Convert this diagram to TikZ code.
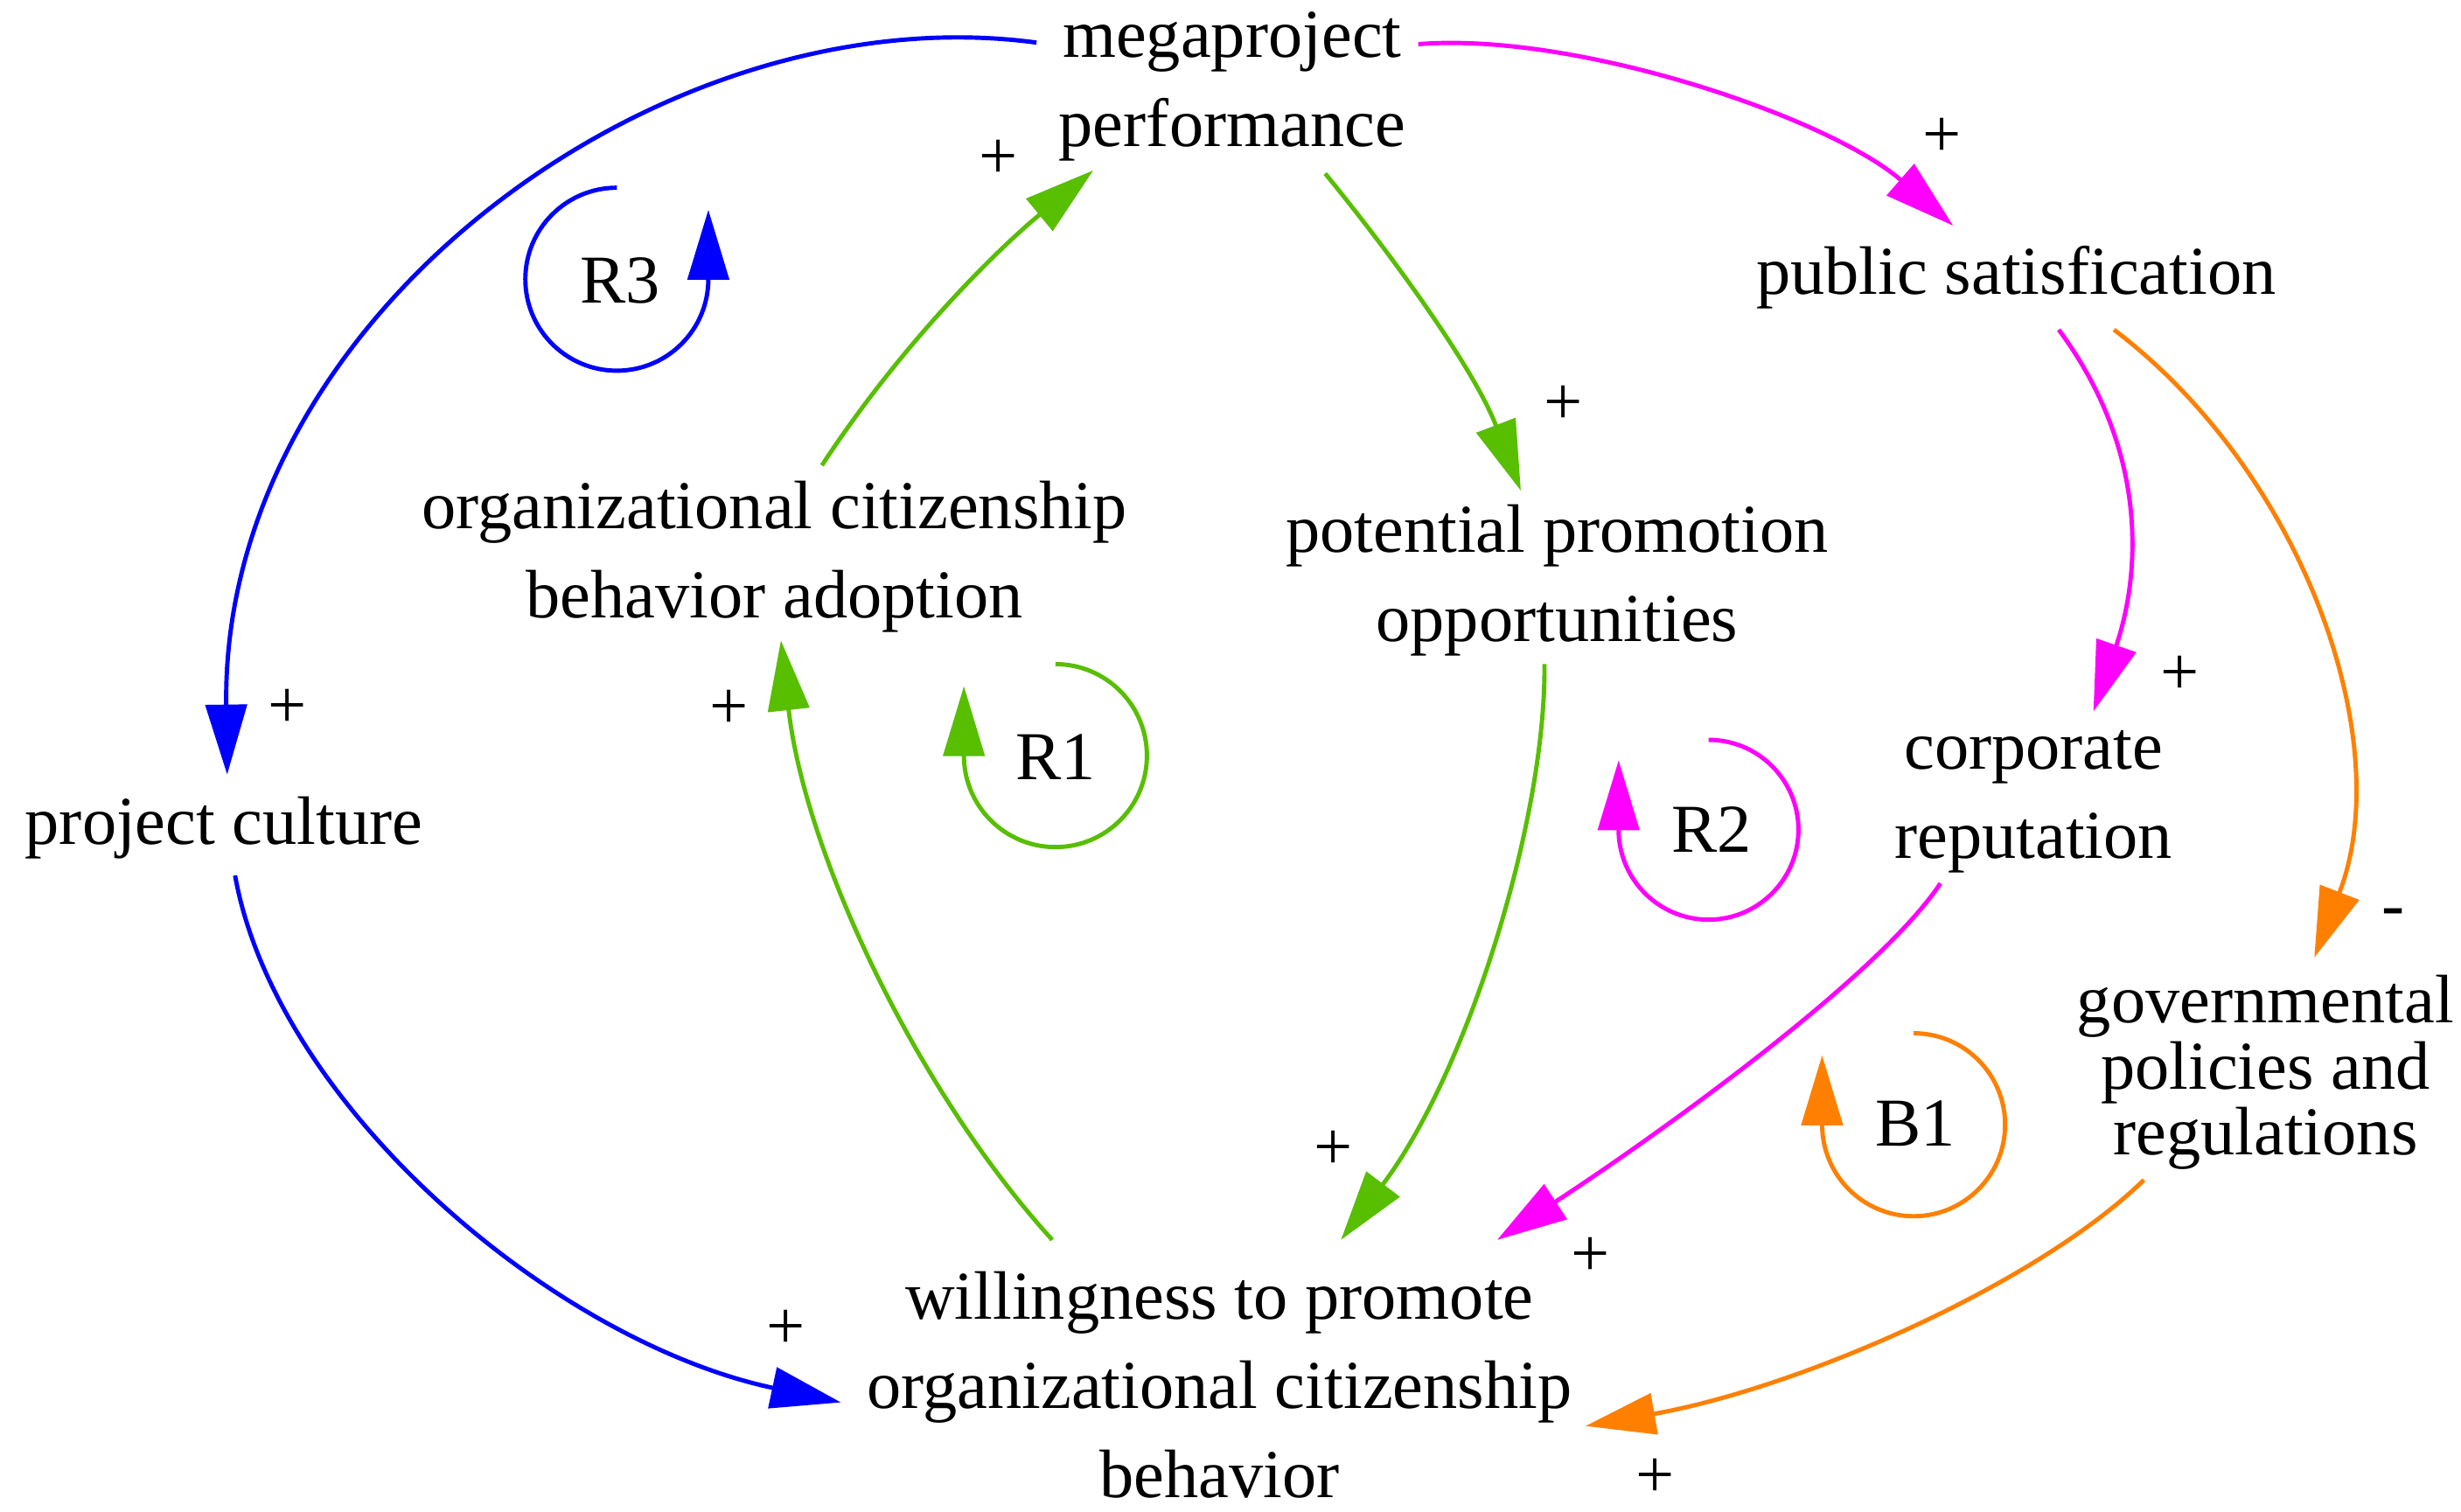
\documentclass[tikz,border=0pt]{standalone}
\usepackage{fontspec}
\setmainfont{Liberation Serif}
\usetikzlibrary{arrows.meta,calc}
\definecolor{cblue}{RGB}{0,0,255}
\definecolor{cgreen}{RGB}{88,190,0}
\definecolor{cmag}{RGB}{255,0,255}
\definecolor{corange}{RGB}{255,128,0}
\begin{document}
\begin{tikzpicture}[x=0.018038cm,y=0.018038cm,
  var/.style={align=center,inner sep=0pt,font=\fontsize{22.3}{29}\selectfont},
  tightvar/.style={align=center,inner sep=0pt,font=\fontsize{22.3}{21.5}\selectfont},
  sign/.style={inner sep=0pt,font=\fontsize{22.3}{29}\selectfont},
  loopname/.style={inner sep=0pt,font=\fontsize{22.3}{29}\selectfont},
  link/.style={line width=1.4pt,-{Triangle[length=0.8cm,width=0.47cm]}},
  looparc/.style={line width=1.4pt,-{Triangle[length=0.8cm,width=0.47cm]}}]
\useasboundingbox (0,0) rectangle (1560,-958);
% variables
\node[var] (mp) at (781,-55) {megaproject\\performance};
\node[var] (ps) at (1278,-176) {public satisfication};
\node[var] (ppo) at (987,-368) {potential promotion\\opportunities};
\node[var] (ocba) at (491,-353) {organizational citizenship\\behavior adoption};
\node[var] (pc) at (142,-525) {project culture};
\node[var] (cr) at (1289,-508) {corporate\\reputation};
\node[tightvar] (gpr) at (1436,-680) {governmental\\policies and\\regulations};
\node[var] (wtp) at (773,-878) {willingness to promote\\organizational citizenship\\behavior};
% loop names
\node[loopname] (r3) at (393,-178) {R3};
\node[loopname] (r1) at (669,-480) {R1};
\node[loopname] (r2) at (1085,-526) {R2};
\node[loopname] (b1) at (1214,-712) {B1};
% loop arrows
\draw[looparc,cblue] ($(r3)+(-2,59)$) arc[start angle=90,end angle=360,radius=1.046cm] -- ++(0,44);
\draw[looparc,cgreen] ($(r1)+(0,59)$) arc[start angle=90,end angle=-180,radius=1.046cm] -- ++(0,44);
\draw[looparc,cmag] ($(r2)+(-2,57)$) arc[start angle=90,end angle=-180,radius=1.028cm] -- ++(0,44);
\draw[looparc,corange] ($(b1)+(-1,57)$) arc[start angle=90,end angle=-180,radius=1.046cm] -- ++(0,44);
% links
\draw[link,cblue] ($(mp)+(-124,28)$) .. controls (420,5) and (140,-200) .. ($(pc)+(2,34)$);
\draw[link,cmag] ($(mp)+(118,27)$) .. controls (1000,-20) and (1160,-75) .. ($(ps)+(-40,33)$);
\draw[link,cgreen] ($(ocba)+(30,58)$) .. controls (570,-220) and (630,-160) .. ($(mp)+(-88,-53)$);
\draw[link,cgreen] ($(mp)+(59,-55)$) .. controls (885,-165) and (935,-235) .. ($(ppo)+(-23,57)$);
\draw[link,cmag] ($(ps)+(27,-33)$) .. controls (1365,-290) and (1355,-370) .. ($(cr)+(38,57)$);
\draw[link,corange] ($(ps)+(62,-33)$) .. controls (1460,-300) and (1520,-470) .. ($(gpr)+(31,73)$);
\draw[link,cgreen] ($(ppo)+(-8,-53)$) .. controls (980,-520) and (930,-680) .. ($(wtp)+(77,92)$);
\draw[link,cmag] ($(cr)+(-59,-52)$) .. controls (1190,-620) and (1050,-720) .. ($(wtp)+(176,92)$);
\draw[link,corange] ($(gpr)+(-77,-68)$) .. controls (1290,-815) and (1140,-880) .. ($(wtp)+(232,-26)$);
\draw[link,cgreen] ($(wtp)+(-106,92)$) .. controls (580,-690) and (510,-540) .. ($(ocba)+(4,-53)$);
\draw[link,cblue] ($(pc)+(7,-30)$) .. controls (175,-700) and (350,-850) .. ($(wtp)+(-240,-11)$);
% polarity signs
\node[sign] (s1) at (182,-449) {+};
\node[sign] (s2) at (462,-450) {+};
\node[sign] (s3) at (633,-101) {+};
\node[sign] (s4) at (1231,-87) {+};
\node[sign] (s5) at (991,-257) {+};
\node[sign] (s6) at (1382,-428) {+};
\node[sign] (s7) at (1517,-582) {-};
\node[sign] (s8) at (845,-729) {+};
\node[sign] (s9) at (1008,-797) {+};
\node[sign] (s10) at (1049,-937) {+};
\node[sign] (s11) at (498,-843) {+};
\end{tikzpicture}
\end{document}
